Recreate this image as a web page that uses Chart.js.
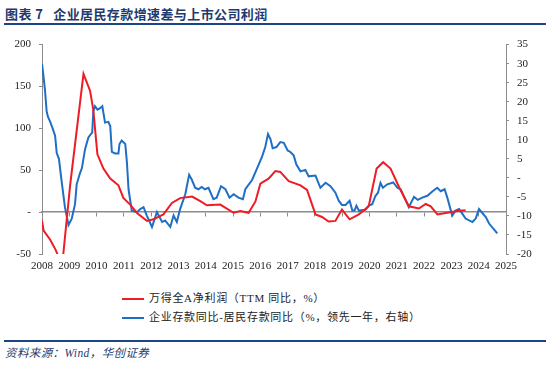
<!DOCTYPE html>
<html><head><meta charset="utf-8">
<script src="https://cdn.jsdelivr.net/npm/chart.js@4.4.0/dist/chart.umd.min.js"></script>
<style>
html,body{margin:0;padding:0;background:#fff;width:550px;height:365px;overflow:hidden;position:relative;}
#title{position:absolute;left:5px;top:4px;font-family:"Noto Sans CJK SC",sans-serif;font-weight:700;font-size:13px;letter-spacing:0.4px;color:#1f3a6e;white-space:nowrap;}
#tline{position:absolute;left:4px;top:23px;width:542px;height:2px;background:#1c4587;}
#bline{position:absolute;left:4px;top:340px;width:542px;height:2px;background:#1c4587;}
#src{position:absolute;left:5px;top:344px;font-family:"Liberation Serif","Noto Sans CJK SC",serif;font-style:italic;font-size:11.5px;letter-spacing:0.4px;color:#1f3a6e;white-space:nowrap;}
#wrap{position:absolute;left:0;top:30px;width:550px;height:250px;}
.leg{position:absolute;font-family:"Liberation Serif","Noto Sans CJK SC",serif;font-size:11px;letter-spacing:0.7px;color:#222;white-space:nowrap;}
.sw{display:inline-block;width:22px;height:2px;vertical-align:middle;margin-right:5px;}
</style></head><body>
<div id="title">图表 7&nbsp;&nbsp;&nbsp;企业居民存款增速差与上市公司利润</div>
<div id="tline"></div>
<div id="wrap"><canvas id="c" width="550" height="250"></canvas></div>
<div class="leg" style="left:122px;top:289px;"><span class="sw" style="background:#ee1c25"></span><span id="l1"></span></div>
<div class="leg" style="left:122px;top:308px;"><span class="sw" style="background:#1f6fc5"></span><span id="l2"></span></div>
<div id="bline"></div>
<div id="src">资料来源：Wind，华创证券</div>
<script>
const seriesNames = ["万得全A净利润（TTM 同比，%）", "企业存款同比-居民存款同比（%，领先一年，右轴）"];
const redDates = [2008.00,2008.06,2008.30,2008.50,2008.65,2008.78,2009.03,2009.52,2009.76,2009.88,2010.03,2010.25,2010.50,2010.80,2010.98,2011.23,2011.48,2011.85,2012.08,2012.45,2012.76,2013.06,2013.50,2013.80,2014.04,2014.53,2015.02,2015.27,2015.57,2015.82,2016.00,2016.30,2016.55,2016.73,2017.04,2017.47,2017.71,2018.02,2018.26,2018.50,2018.75,2018.99,2019.27,2019.61,2019.97,2020.26,2020.50,2020.77,2021.08,2021.44,2021.81,2022.06,2022.24,2022.49,2022.85,2023.22,2023.52];
const redValues = [-10,-22,-33,-45,-57,-50,32,165,145,122,69,52,40,32,17,9,-1,-10.5,-8.6,-2.7,11,16.7,18.5,13,8.2,9,-0.8,1.2,-0.8,12.8,34,40,49,48,37,32,26.5,-2.7,-5.8,-11.3,-10.5,3,-8.6,-2.7,7,52,59.6,52,30,7,4.3,9.7,7,-2.7,-0.8,1.2,2.3];
const blueDates = [2008.00,2008.05,2008.11,2008.17,2008.22,2008.29,2008.38,2008.48,2008.54,2008.62,2008.72,2008.84,2008.97,2009.09,2009.21,2009.27,2009.39,2009.46,2009.58,2009.70,2009.79,2009.84,2009.88,2009.94,2010.03,2010.13,2010.21,2010.31,2010.43,2010.50,2010.56,2010.68,2010.80,2010.84,2010.92,2011.05,2011.11,2011.17,2011.29,2011.48,2011.60,2011.72,2011.84,2012.03,2012.21,2012.40,2012.51,2012.70,2012.82,2012.94,2013.06,2013.25,2013.39,2013.49,2013.61,2013.73,2013.85,2013.97,2014.10,2014.28,2014.40,2014.56,2014.72,2014.87,2015.02,2015.20,2015.36,2015.45,2015.70,2015.88,2016.06,2016.18,2016.28,2016.37,2016.45,2016.59,2016.73,2016.86,2017.00,2017.10,2017.22,2017.32,2017.47,2017.65,2017.77,2018.02,2018.20,2018.39,2018.57,2018.75,2018.87,2018.99,2019.12,2019.27,2019.37,2019.45,2019.52,2019.61,2019.85,2019.97,2020.10,2020.22,2020.31,2020.40,2020.49,2020.65,2020.87,2021.02,2021.14,2021.32,2021.44,2021.63,2021.77,2021.93,2022.12,2022.30,2022.48,2022.61,2022.75,2022.85,2023.03,2023.15,2023.28,2023.36,2023.52,2023.77,2023.89,2024.01,2024.26,2024.38,2024.68];
const blueValues = [30,27,23,17.5,16,14.9,13.2,11.1,6.5,5,-0.9,-7.7,-12.4,-10.7,-6.9,-1.7,1.2,2.5,7.6,10.6,11.5,11.9,17.5,18.8,17.9,18.3,18.8,14.5,14.7,13.6,6.8,6.4,6.4,8.9,9.8,8.9,4.2,-3,-8.6,-9,-8.2,-7.7,-9.9,-12.9,-9,-11.6,-11.2,-12.9,-9.9,-11.6,-8.2,-4.3,0.8,-0.5,-2.6,-3,-2.4,-3,-2.6,-5.6,-5.2,-2.2,-3,-5.2,-4.3,-5.2,-5.6,-3,-0.5,2.5,5.5,8.1,11.5,10.2,7.8,8.1,9.4,9.2,7.2,6.8,5.9,3.5,1.7,2.1,0.4,0.6,-2.6,-1.3,-2.2,-3.9,-6,-7.1,-7.1,-6,-8.6,-8.6,-7.3,-8.6,-8.4,-7.3,-6.9,-4.7,-3.9,-1.3,-2.6,-1.7,-1.2,-2.6,-3,-5.8,-7.7,-5,-5.8,-5.2,-4.7,-3.6,-2.6,-3.5,-3,-5.2,-9.9,-8.6,-8.2,-9,-10.7,-11.6,-10.7,-8.2,-10.3,-12,-14.6];
const leftTicks = [-50,0,50,100,150,200];
const rightTicks = [-20,-15,-10,-5,0,5,10,15,20,25,30,35];
const yearTicks = [2008,2009,2010,2011,2012,2013,2014,2015,2016,2017,2018,2019,2020,2021,2022,2023,2024,2025];

document.getElementById('l1').textContent = seriesNames[0];
document.getElementById('l2').textContent = seriesNames[1];

const toXY = (xs, ys) => xs.map((x, i) => ({x: x, y: ys[i]}));
const tickFont = {family: "'Liberation Serif', serif", size: 11};
const gray = '#8c8c8c';
const zeroDash = v => (v === 0 ? '-' : String(v));

new Chart(document.getElementById('c'), {
  type: 'line',
  data: {
    datasets: [
      {label: seriesNames[0], data: toXY(redDates, redValues), borderColor: '#ee1c25', borderWidth: 2, pointRadius: 0, tension: 0, yAxisID: 'y', xAxisID: 'x'},
      {label: seriesNames[1], data: toXY(blueDates, blueValues), borderColor: '#1f6fc5', borderWidth: 2, pointRadius: 0, tension: 0, yAxisID: 'y1', xAxisID: 'x'}
    ]
  },
  options: {
    responsive: false,
    animation: false,
    devicePixelRatio: 1,
    layout: {padding: {top: 10, left: 0, right: 0, bottom: 0}},
    plugins: {legend: {display: false}, tooltip: {enabled: false}},
    scales: {
      x: {
        type: 'linear', position: 'bottom', min: yearTicks[0], max: yearTicks[yearTicks.length - 1],
        afterBuildTicks: s => { s.ticks = yearTicks.map(v => ({value: v})); },
        afterFit: s => { s.height = 26; },
        grid: {display: false, drawTicks: false},
        border: {display: false},
        ticks: {padding: 6, font: tickFont, color: '#222', maxRotation: 0, autoSkip: false, callback: v => String(v)}
      },
      x2: {
        type: 'linear', position: {y: 0}, min: yearTicks[0], max: yearTicks[yearTicks.length - 1],
        afterBuildTicks: s => { s.ticks = yearTicks.map(v => ({value: v})); },
        grid: {display: true, drawOnChartArea: false, drawTicks: true, tickLength: 4, color: gray},
        border: {display: true, color: gray, width: 1.5},
        ticks: {display: false}
      },
      y: {
        position: 'left', min: -50, max: 200,
        afterBuildTicks: s => { s.ticks = leftTicks.map(v => ({value: v})); },
        afterFit: s => { s.width = 42; },
        grid: {display: true, drawOnChartArea: false, drawTicks: true, tickLength: 3, color: gray},
        border: {display: true, color: gray, width: 1},
        ticks: {padding: 8, font: tickFont, color: '#222', callback: zeroDash}
      },
      y1: {
        position: 'right', min: -20, max: 35,
        afterBuildTicks: s => { s.ticks = rightTicks.map(v => ({value: v})); },
        afterFit: s => { s.width = 44; },
        grid: {display: true, drawOnChartArea: false, drawTicks: true, tickLength: 3, color: gray},
        border: {display: true, color: gray, width: 1},
        ticks: {padding: 8, font: tickFont, color: '#222', callback: zeroDash}
      }
    }
  }
});
</script>
</body></html>
